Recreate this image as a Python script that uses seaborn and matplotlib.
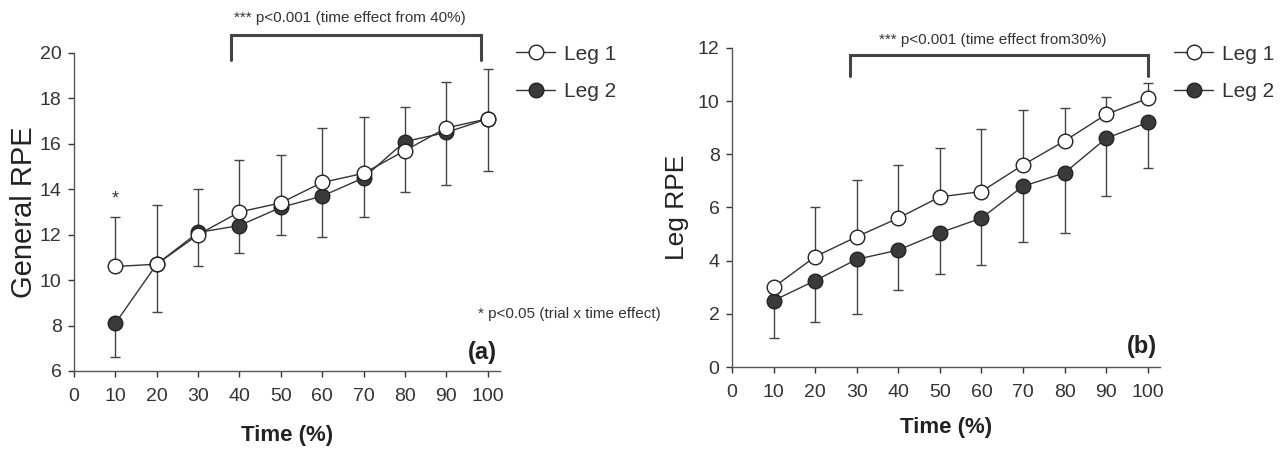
import matplotlib
matplotlib.use("Agg")
import matplotlib.pyplot as plt
import seaborn as sns
import pandas as pd
from matplotlib import font_manager

# ---------------- data ----------------
time_pct = [10, 20, 30, 40, 50, 60, 70, 80, 90, 100]
x_ticks = [0, 10, 20, 30, 40, 50, 60, 70, 80, 90, 100]

gen_leg1 = [10.6, 10.7, 12.0, 13.0, 13.4, 14.3, 14.7, 15.7, 16.7, 17.1]
gen_leg2 = [8.1, 10.7, 12.1, 12.4, 13.2, 13.7, 14.5, 16.1, 16.5, 17.1]
gen_leg1_sd = [2.2, 2.6, 2.0, 2.3, 2.1, 2.4, 2.5, 1.9, 2.0, 2.2]
gen_leg2_sd = [1.5, 2.1, 1.5, 1.2, 1.2, 1.8, 1.7, 2.2, 2.3, 2.3]

leg_leg1 = [3.0, 4.15, 4.9, 5.6, 6.4, 6.6, 7.6, 8.5, 9.5, 10.1]
leg_leg2 = [2.5, 3.25, 4.05, 4.4, 5.05, 5.6, 6.8, 7.3, 8.6, 9.2]
leg_leg1_sd = [0.0, 1.85, 2.15, 2.0, 1.85, 2.35, 2.05, 1.25, 0.65, 0.6]
leg_leg2_sd = [1.4, 1.55, 2.05, 1.5, 1.55, 1.75, 2.1, 2.25, 2.15, 1.7]

series_names = ["Leg 1", "Leg 2"]

# ---------------- style ----------------
sns.set_style("ticks")
names = {f.name for f in font_manager.fontManager.ttflist}
fam = "Liberation Sans Narrow" if "Liberation Sans Narrow" in names else "Liberation Sans"
plt.rcParams["font.family"] = [fam, "DejaVu Sans"]

fig = plt.figure(figsize=(12.87, 4.5), dpi=100)
ax_a = fig.add_axes([0.0575, 0.1756, 0.331, 0.7067])
ax_b = fig.add_axes([0.5688, 0.1844, 0.3326, 0.709])

spine_c = "#555555"
line_c = "#333333"


def draw_panel(ax, leg1, leg2, sd1, sd2, ylim, yticks, ylabel, ylabel_size,
               ylabelpad, xlabelpad, legend_anchor):
    df = pd.DataFrame({
        "Time": time_pct * 2,
        "RPE": leg1 + leg2,
        "Series": [series_names[0]] * len(time_pct) + [series_names[1]] * len(time_pct),
    })
    # error bars: Leg 1 upward, Leg 2 downward
    ax.errorbar(time_pct, leg1, yerr=[[0] * len(sd1), sd1], fmt="none",
                ecolor="#444444", elinewidth=1.0, capsize=3.5, capthick=1.0, zorder=2)
    ax.errorbar(time_pct, leg2, yerr=[sd2, [0] * len(sd2)], fmt="none",
                ecolor="#444444", elinewidth=1.0, capsize=3.5, capthick=1.0, zorder=2)
    sns.lineplot(data=df[df.Series == "Leg 2"], x="Time", y="RPE", ax=ax,
                 color=line_c, linewidth=1.0, marker="o", markersize=10.5,
                 markerfacecolor="#3a3a3a", markeredgecolor="#222222",
                 markeredgewidth=1.0, label="Leg 2", zorder=3)
    sns.lineplot(data=df[df.Series == "Leg 1"], x="Time", y="RPE", ax=ax,
                 color=line_c, linewidth=1.0, marker="o", markersize=10.5,
                 markerfacecolor="white", markeredgecolor="#222222",
                 markeredgewidth=1.0, label="Leg 1", zorder=4)
    ax.set_xlim(0, 103)
    ax.set_ylim(*ylim)
    ax.set_xticks(x_ticks)
    ax.set_yticks(yticks)
    ax.tick_params(axis="both", labelsize=14, colors="#333333", length=4,
                   width=1.0, direction="out")
    ax.tick_params(axis="x", pad=8)
    ax.tick_params(axis="y", pad=5)
    for s in ["top", "right"]:
        ax.spines[s].set_visible(False)
    for s in ["left", "bottom"]:
        ax.spines[s].set_color(spine_c)
        ax.spines[s].set_linewidth(1.0)
    ax.set_xlabel("Time (%)", fontsize=16, fontweight="bold", color="#222222",
                  labelpad=xlabelpad)
    ax.set_ylabel(ylabel, fontsize=ylabel_size, color="#222222", labelpad=ylabelpad)
    h, l = ax.get_legend_handles_labels()
    order = [l.index("Leg 1"), l.index("Leg 2")]
    ax.legend([h[i] for i in order], [l[i] for i in order], loc="upper left",
              bbox_to_anchor=legend_anchor, frameon=False, fontsize=15,
              handlelength=1.9, handletextpad=0.4, labelspacing=0.9,
              labelcolor="#333333")


draw_panel(ax_a, gen_leg1, gen_leg2, gen_leg1_sd, gen_leg2_sd,
           (6, 20), [6, 8, 10, 12, 14, 16, 18, 20], "General RPE", 21, 1, 15,
           (0.993, 1.085))
draw_panel(ax_b, leg_leg1, leg_leg2, leg_leg1_sd, leg_leg2_sd,
           (0, 12), [0, 2, 4, 6, 8, 10, 12], "Leg RPE", 19, 6, 12,
           (0.988, 1.069))

# panel (a) annotations
ax_a.plot([38, 38, 98.5, 98.5], [19.7, 20.8, 20.8, 19.7], color="#444444",
          lw=2.2, clip_on=False, solid_joinstyle="miter")
ax_a.text(66.7, 21.55, "*** p<0.001 (time effect from 40%)", ha="center", va="center",
          fontsize=11, color="#333333")
ax_a.text(10, 13.55, "*", ha="center", va="center", fontsize=13, color="#333333")
ax_a.text(0.948, 0.18, "* p<0.05 (trial x time effect)", transform=ax_a.transAxes,
          ha="left", va="center", fontsize=11, color="#333333")
ax_a.text(0.993, 0.057, "(a)", transform=ax_a.transAxes, ha="right", va="center",
          fontsize=17, fontweight="bold", color="#222222")

# panel (b) annotations
ax_b.plot([28.5, 28.5, 100, 100], [10.95, 11.73, 11.73, 10.95], color="#444444",
          lw=2.2, clip_on=False, solid_joinstyle="miter")
ax_b.text(62.8, 12.3, "*** p<0.001 (time effect from30%)", ha="center", va="center",
          fontsize=11, color="#333333")
ax_b.text(0.993, 0.063, "(b)", transform=ax_b.transAxes, ha="right", va="center",
          fontsize=17, fontweight="bold", color="#222222")

fig.savefig("out.png", dpi=100)
